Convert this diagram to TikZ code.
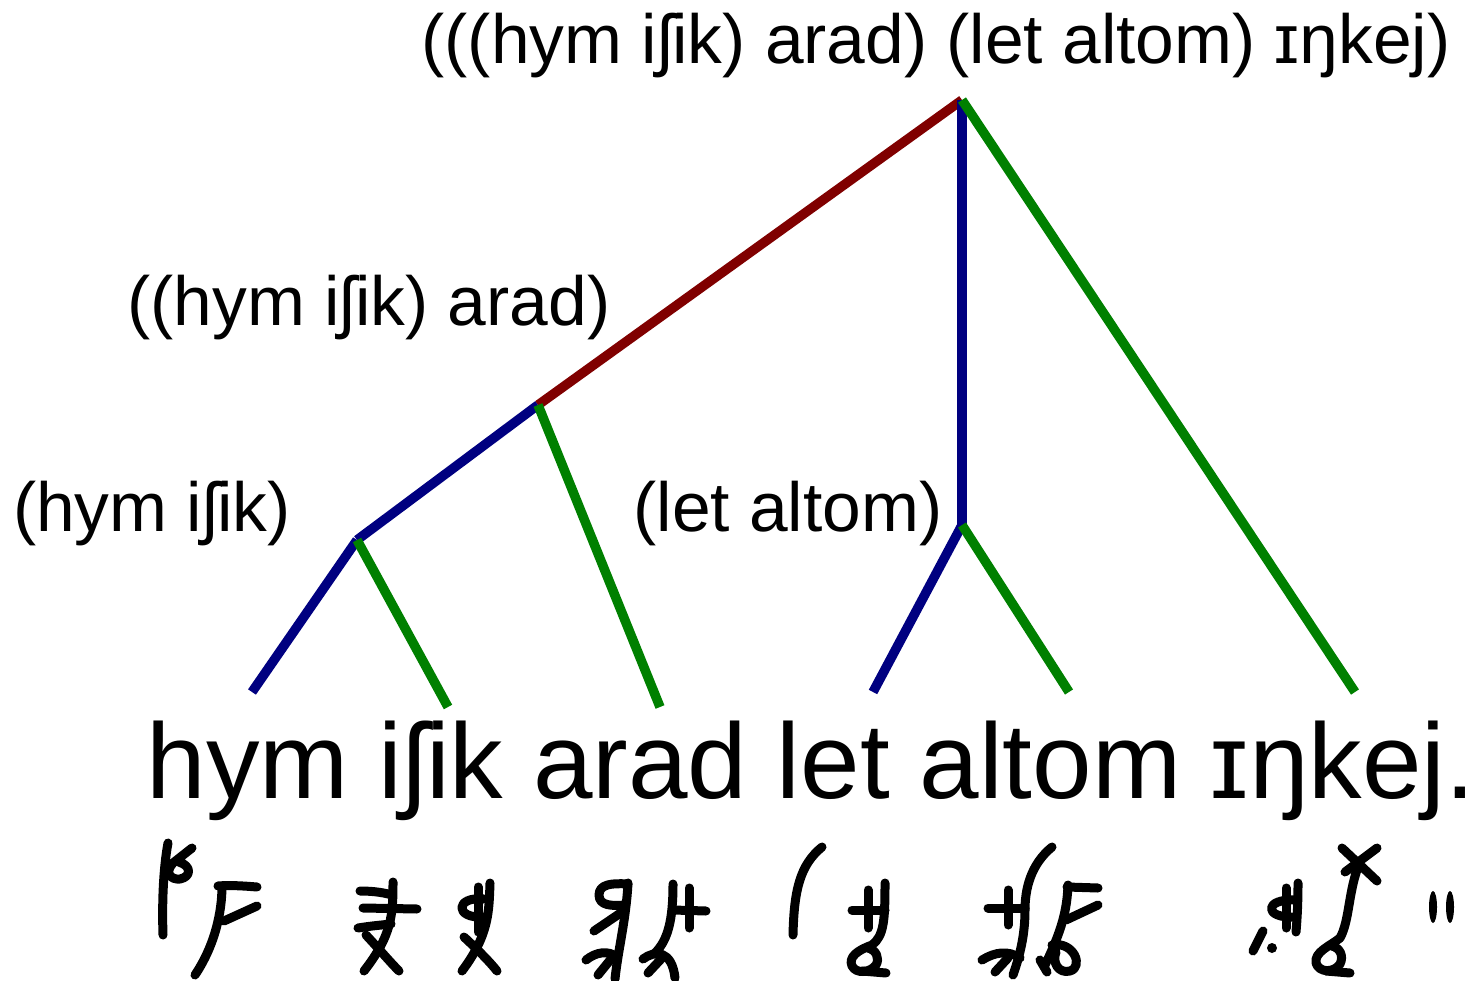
\documentclass[tikz,border=0pt]{standalone}
\usepackage{fontspec}
\setmainfont{Liberation Sans}
\definecolor{tred}{HTML}{800000}
\definecolor{tblue}{HTML}{000080}
\definecolor{tgreen}{HTML}{008000}
\tikzset{
  edge/.style={line width=9.5pt},
  redge/.style={edge,tred},
  bedge/.style={edge,tblue},
  gedge/.style={edge,tgreen},
  lbl/.style={anchor=base,inner sep=0pt,font=\fontsize{69.5}{80}\selectfont},
  sent/.style={anchor=base,inner sep=0pt,font=\fontsize{107}{120}\selectfont},
  glyph/.style={line width=9pt,line cap=round,line join=round,black},
}
\begin{document}
\begin{tikzpicture}[x=1pt,y=-1pt]
\useasboundingbox (0,0) rectangle (1477,981);
% junctions
\coordinate (root) at (962,100);
\coordinate (ha) at (538,405);
\coordinate (hi) at (357,540);
\coordinate (la) at (962,525);
\coordinate (w1) at (252,692);
\coordinate (w2) at (448,707);
\coordinate (w3) at (660,707);
\coordinate (w4) at (873,692);
\coordinate (w5) at (1069,692);
\coordinate (w6) at (1355,692);
% edges
\draw[redge] (root) -- (ha);
\draw[bedge] (root) -- (la);
\draw[gedge] (root) -- (w6);
\draw[bedge] (ha) -- (hi);
\draw[gedge] (ha) -- (w3);
\draw[bedge] (hi) -- (w1);
\draw[gedge] (hi) -- (w2);
\draw[bedge] (la) -- (w4);
\draw[gedge] (la) -- (w5);
% labels
\node[lbl] (lroot) at (936,64) {(((hym iʃik) arad) (let altom) ɪŋkej)};
\node[lbl] (lha) at (369,326) {((hym iʃik) arad)};
\node[lbl] (lhi) at (152,531) {(hym iʃik)};
\node[lbl] (lla) at (788,531) {(let altom)};
\node[sent] (sentence) at (811,798) {hym iʃik arad let altom ɪŋkej.};
% glyphs
% 1a
\draw[glyph] (168,843) .. controls (163,870) and (162,905) .. (163,935);
\draw[glyph] (192,848) -- (173,863) .. controls (164,873) and (171,880) .. (180,879) .. controls (191,877) and (192,866) .. (179,862);
% 1b
\draw[glyph] (218,886) .. controls (230,885) and (245,886) .. (257,887);
\draw[glyph] (222,886) .. controls (222,912) and (215,945) .. (195,975);
\draw[glyph] (257,906) -- (224,921);
% 2a
\draw[glyph] (393,882) .. controls (393,915) and (392,935) .. (364,971);
\draw[glyph] (366,935) .. controls (380,950) and (390,962) .. (399,971);
\draw[glyph] (360,891) .. controls (375,891) and (385,893) .. (392,895);
\draw[glyph] (363,908) -- (417,909);
\draw[glyph] (358,928) .. controls (370,926) and (382,925) .. (391,924);
% 2b
\draw[glyph] (490,883) .. controls (489,912) and (489,935) .. (462,971);
\draw[glyph] (464,937) .. controls (478,950) and (490,962) .. (497,971);
\draw[glyph] (478,887) -- (478,932);
\draw[glyph] (484,899) .. controls (455,896) and (454,919) .. (484,917);
% 3a
\draw[glyph] (628,884) .. controls (612,883) and (599,884) .. (599,895) .. controls (599,906) and (612,906) .. (625,905);
\draw[glyph] (628,883) .. controls (626,920) and (618,950) .. (615,979);
\draw[glyph] (622,912) -- (594,931);
\draw[glyph] (586,960) .. controls (596,952) and (608,950) .. (617,957);
\draw[glyph] (598,975) -- (611,959);
% 3b
\draw[glyph] (673,884) .. controls (673,920) and (668,940) .. (655,953);
\draw[glyph] (643,959) .. controls (655,950) and (672,950) .. (675,978);
\draw[glyph] (648,973) -- (662,958);
\draw[glyph] (689,888) -- (689,928);
\draw[glyph] (673,910) -- (706,911);
% 4a
\draw[glyph] (822,847) .. controls (800,865) and (794,890) .. (793,935);
% 4b
\draw[glyph] (885,883) .. controls (885,920) and (884,936) .. (872,945) .. controls (858,950) and (848,957) .. (852,966) .. controls (856,974) and (870,973) .. (876,965) .. controls (880,958) and (876,950) .. (868,948);
\draw[glyph] (862,971) -- (886,973);
\draw[glyph] (868,890) -- (868,928);
\draw[glyph] (852,910) -- (885,910);
% 5a
\draw[glyph] (1052,847) .. controls (1030,865) and (1025,890) .. (1025,910) .. controls (1025,935) and (1020,955) .. (1013,975);
\draw[glyph] (1008,890) -- (1008,925);
\draw[glyph] (988,908) -- (1025,908);
\draw[glyph] (982,960) .. controls (995,952) and (1008,950) .. (1020,958);
\draw[glyph] (995,972) -- (1008,958);
% 5b
\draw[glyph] (1067,887) -- (1098,888);
\draw[glyph] (1068,885) .. controls (1067,910) and (1062,930) .. (1045,965);
\draw[glyph] (1098,905) -- (1066,920);
\draw[glyph] (1052,945) .. controls (1074,941) and (1084,967) .. (1070,971) .. controls (1058,974) and (1052,962) .. (1056,952);
\draw[glyph] (1040,960) -- (1047,972);
% 6a
\draw[glyph] (1298,883) .. controls (1298,905) and (1297,920) .. (1296,932);
\draw[glyph] (1286,888) -- (1286,928);
\draw[glyph] (1297,900) .. controls (1263,898) and (1263,919) .. (1296,917);
\draw[glyph] (1253,951) -- (1263,931);
\fill (1272,948) circle (5);
% 6b
\draw[glyph] (1342,848) -- (1377,881);
\draw[glyph] (1377,848) -- (1345,872);
\draw[glyph] (1360,862) .. controls (1348,890) and (1350,920) .. (1340,938) .. controls (1330,946) and (1314,952) .. (1316,963) .. controls (1319,973) and (1334,973) .. (1340,964) .. controls (1344,956) and (1340,948) .. (1332,946);
\draw[glyph] (1326,971) -- (1350,973);
% 7
\fill (1433,907) ellipse (4 and 16);
\fill (1450,907) ellipse (4 and 16);
\end{tikzpicture}
\end{document}
